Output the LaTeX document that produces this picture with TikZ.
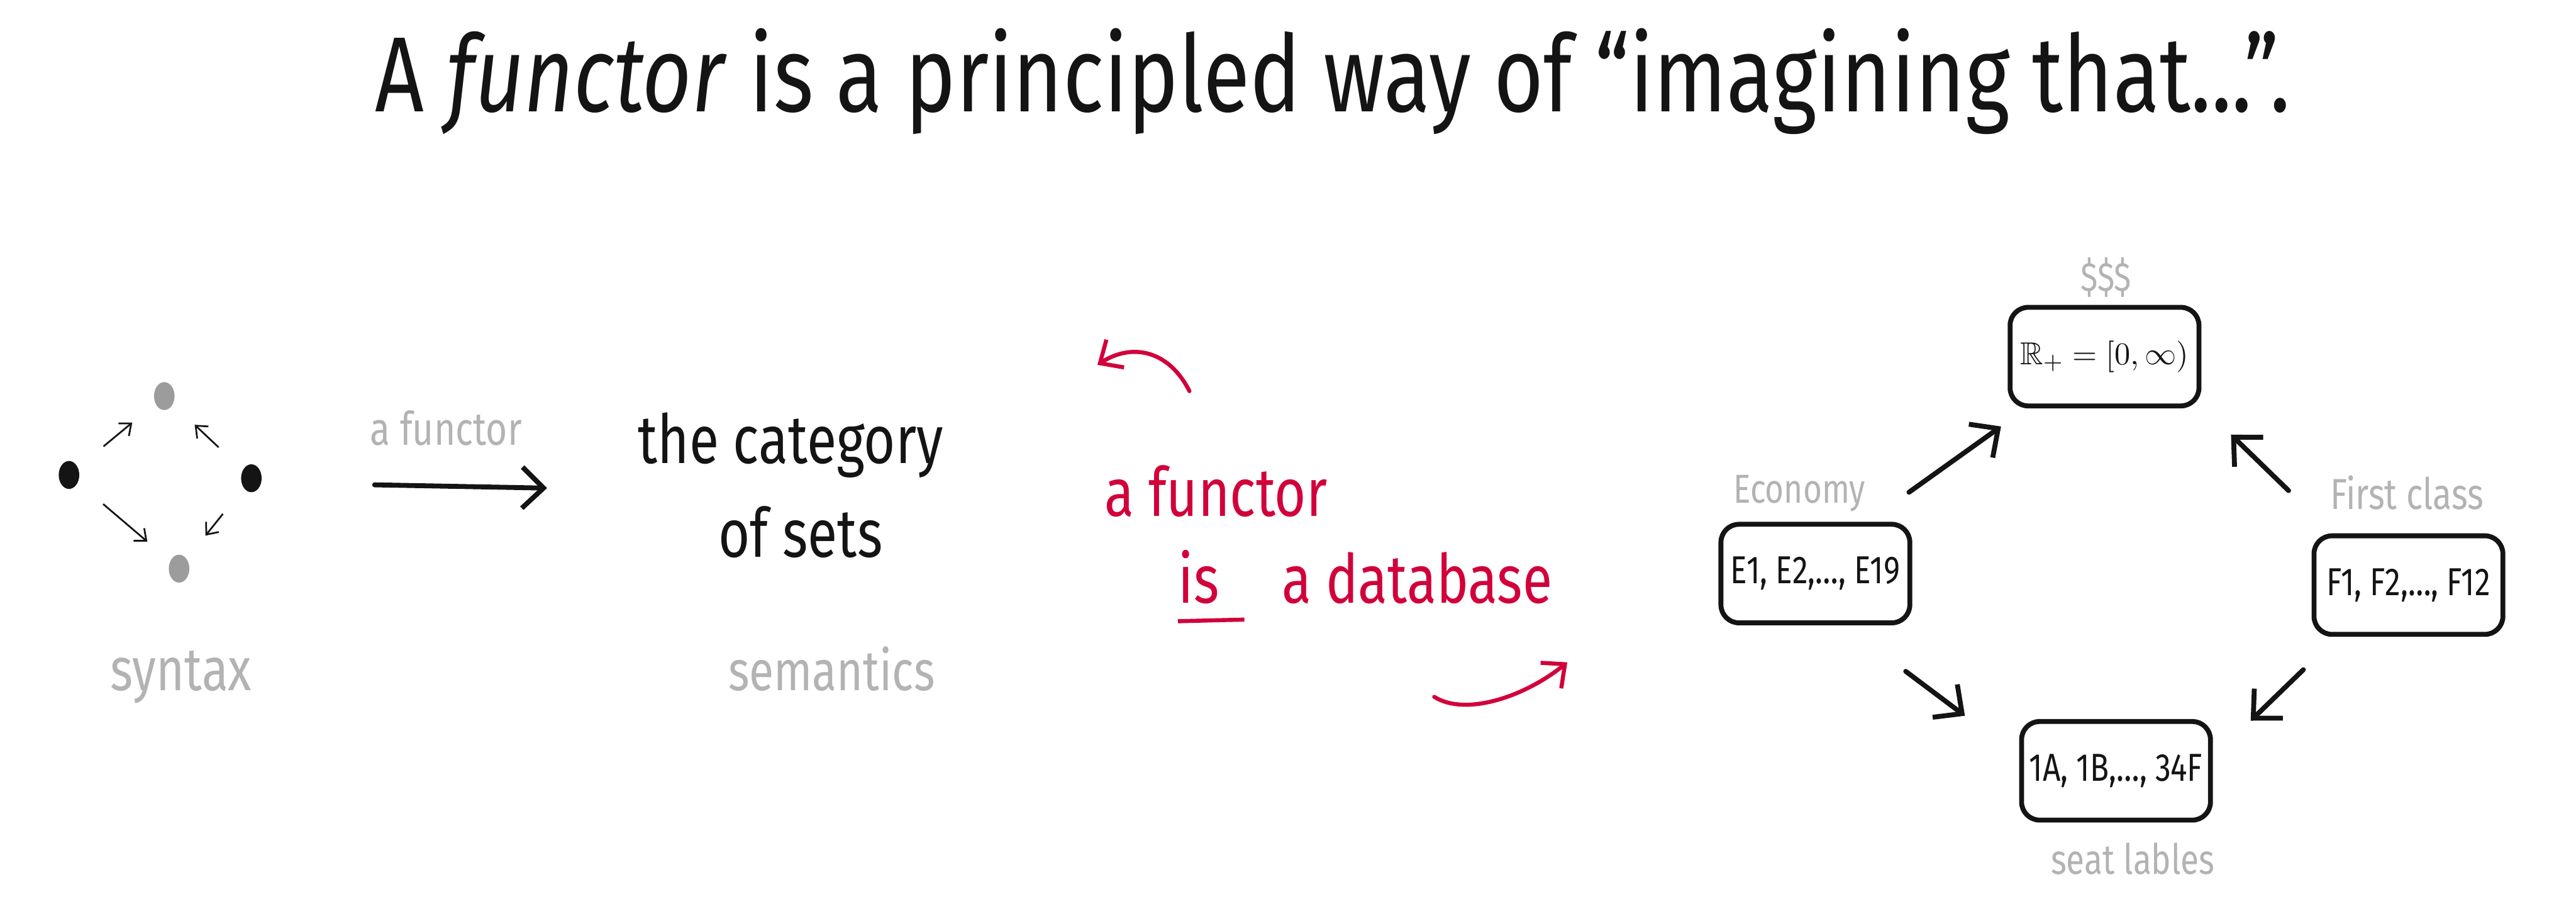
\documentclass[tikz,border=0pt]{standalone}
\usepackage{fontspec}
\usepackage{amsmath, amssymb}
\setmainfont{Fira Sans}[FakeStretch=0.8]
\usetikzlibrary{positioning, calc, arrows.meta, shapes.geometric}
\definecolor{Ink}{HTML}{141414}
\definecolor{Pencil}{HTML}{B3B3B3}
\definecolor{Dot}{HTML}{9C9C9C}
\definecolor{Marker}{HTML}{D2003A}
\tikzset{
    ink/.style={text=Ink, inner sep=0pt, anchor=base west},
    pencil/.style={text=Pencil, inner sep=0pt, anchor=base west},
    marker/.style={text=Marker, inner sep=0pt, anchor=base west, font=\fontsize{23.5pt}{28pt}\selectfont},
    inkdot/.style={ellipse, fill=Ink, minimum width=0.25cm, minimum height=0.34cm, inner sep=0pt},
    greydot/.style={ellipse, fill=Dot, minimum width=0.25cm, minimum height=0.34cm, inner sep=0pt},
    thinarrow/.style={-{Straight Barb[length=0.12cm, width=0.2cm]}, line width=0.6pt, color=Ink, shorten <=0.4cm, shorten >=0.36cm},
    bigarrow/.style={-{Straight Barb[length=0.26cm, width=0.5cm]}, line width=1.7pt, color=Ink, line cap=round},
    redarrow/.style={-{Straight Barb[length=0.22cm, width=0.4cm]}, line width=1.4pt, color=Marker, line cap=round},
    setbox/.style={rectangle, rounded corners=0.22cm, draw=Ink, line width=1.7pt, inner sep=2pt, minimum width=2.3cm, minimum height=1.2cm, font=\fontsize{13.5pt}{16pt}\selectfont, text=Ink},
}

\begin{document}
\begin{tikzpicture}[x=0.02cm, y=-0.02cm]
    \useasboundingbox (0,0) rectangle (1568,554);

    % Title
    \node[ink, font=\fontsize{37pt}{42pt}\selectfont] (title) at (228,68) {A \textit{functor} is a principled way of “imagining that...”.};

    % Syntax (small graph)
    \node[inkdot] (lft) at (42,289) {};
    \node[inkdot] (rgt) at (153,291) {};
    \node[greydot] (top) at (100,241) {};
    \node[greydot] (bot) at (109,346) {};
    \draw[thinarrow] (lft) -- (top);
    \draw[thinarrow] (rgt) -- (top);
    \draw[thinarrow] (lft) -- (bot);
    \draw[thinarrow] (rgt) -- (bot);
    \node[pencil, font=\fontsize{21pt}{25pt}\selectfont] (syntax) at (67,420) {syntax};

    % the functor arrow
    \node[pencil, font=\fontsize{16pt}{19pt}\selectfont] (fname) at (225,271) {a functor};
    \coordinate (fsrc) at (228,295);
    \coordinate (ftgt) at (333,297);
    \draw[bigarrow] (fsrc) -- (ftgt);

    % Semantics
    \node[ink, font=\fontsize{23.5pt}{28pt}\selectfont] (cat) at (388,282) {the category};
    \node[ink, font=\fontsize{23.5pt}{28pt}\selectfont] (sets) at (437,339) {of sets};
    \node[pencil, font=\fontsize{19.5pt}{23pt}\selectfont] (semantics) at (443,420) {semantics};

    % a functor is a database
    \node[marker] (red1) at (672,314) {a functor};
    \node[marker] (red2) at (717,367) {is};
    \node[marker] (red3) at (780,367) {a database};
    \draw[Marker, line width=1.4pt] ([yshift=-0.22cm]red2.base west) -- ([xshift=0.3cm, yshift=-0.2cm]red2.base east);
    \coordinate (c1) at (724,238);
    \coordinate (c2) at (668,222);
    \draw[redarrow] (c1) .. controls (712,214) and (690,208) .. (c2);
    \coordinate (c3) at (873,424);
    \coordinate (c4) at (954,403);
    \draw[redarrow] (c3) .. controls (892,436) and (928,424) .. (c4);

    % Database schema
    \node[setbox, font=\fontsize{11pt}{13pt}\selectfont] (price) at (1281,217) {$\mathbb{R}_+ = [0,\infty)$};
    \node[setbox] (econ) at (1105,349) {E1, E2,\ldots, E19};
    \node[setbox] (first) at (1466,356) {F1, F2,\ldots, F12};
    \node[setbox] (seats) at (1288,469) {1A, 1B,\ldots, 34F};
    \node[pencil, anchor=center, font=\fontsize{14pt}{17pt}\selectfont] (pricelbl) at (1282,169) {\$\$\$};
    \node[pencil, font=\fontsize{14pt}{17pt}\selectfont] (econlbl) at (1055,306) {Economy};
    \node[pencil, font=\fontsize{15pt}{18pt}\selectfont] (firstlbl) at (1418,310) {First class};
    \node[pencil, font=\fontsize{14.5pt}{17pt}\selectfont] (seatlbl) at (1248,532) {seat lables};
    \draw[bigarrow] ([shift={(-2,-18)}]econ.north east) -- ([shift={(-4,11)}]price.south west);
    \draw[bigarrow] ([shift={(-14,-26)}]first.north west) -- ([shift={(18,16)}]price.south east);
    \draw[bigarrow] ([shift={(-4,28)}]econ.south east) -- ([shift={(-33,-2)}]seats.north west);
    \draw[bigarrow] ([shift={(-5,20)}]first.south west) -- ([shift={(23,1)}]seats.north east);
\end{tikzpicture}
\end{document}
